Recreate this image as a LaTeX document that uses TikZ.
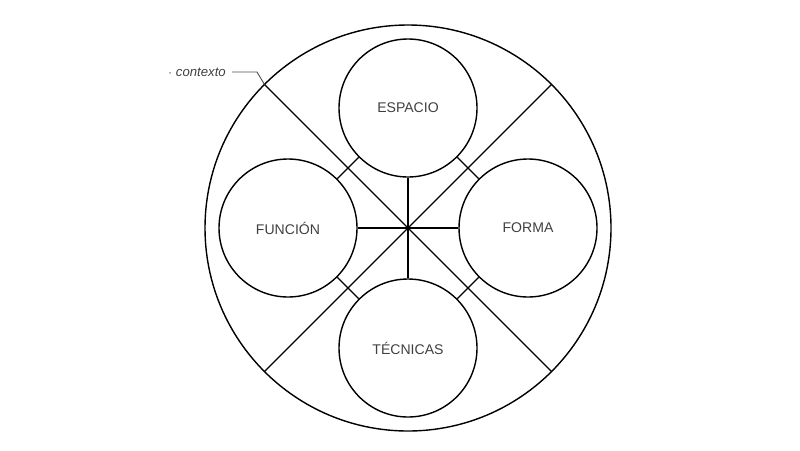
\documentclass[tikz,border=0pt]{standalone}
\usepackage{fontspec}
\setmainfont{Liberation Sans}
\usetikzlibrary{positioning}

\begin{document}
\begin{tikzpicture}[x=0.02cm,y=-0.02cm,
    topic/.style={circle,draw,line width=0.8pt,minimum size=138*0.02cm,inner sep=0pt,
      font=\fontsize{8}{9}\selectfont,text=black!75},
    spoke/.style={line width=0.7pt}]
    % Frame
    \useasboundingbox (0,0) rectangle (800,450);

    % Outer circle
    \coordinate (mid) at (408,228);
    \draw [line width=0.8pt] (mid) circle [radius=203];

    % Topics
    \node (espacio) [topic] at (408,108) {ESPACIO};
    \node (funcion) [topic] at (288,228) {FUNCIÓN};
    \node (forma) [topic] at (528,228) {FORMA};
    \node (tecnicas) [topic] at (408,348) {TÉCNICAS};

    % Spokes
    \foreach \t in {espacio, funcion, forma, tecnicas}
      \draw [spoke] (mid) -- (\t);
    \coordinate (nw) at (264.5,84.5);
    \coordinate (ne) at (551.5,84.5);
    \coordinate (sw) at (264.5,371.5);
    \coordinate (se) at (551.5,371.5);
    \foreach \d in {nw, ne, sw, se}
      \draw [spoke] (mid) -- (\d);

    % Links
    \draw [spoke] (espacio) -- (funcion);
    \draw [spoke] (espacio) -- (forma);
    \draw [spoke] (tecnicas) -- (funcion);
    \draw [spoke] (tecnicas) -- (forma);

    % Context label
    \node (contexto) [anchor=east,font=\fontsize{7.5}{9}\selectfont\itshape,text=black!75]
      at (232,72) {$\cdot$ contexto};
    \draw [line width=0.5pt,black!70] (contexto.east) -- ++(25,0) -- (nw);
\end{tikzpicture}
\end{document}
